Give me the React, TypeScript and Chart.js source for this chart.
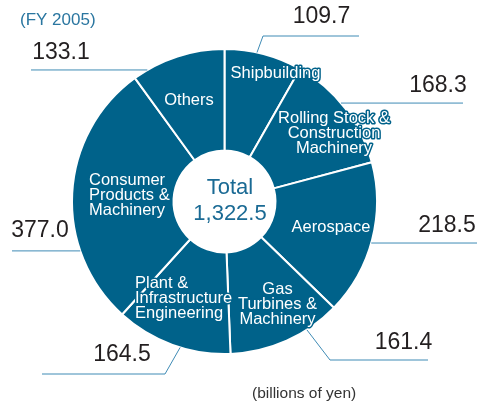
import React, { useEffect, useRef } from "react";
import { Chart, registerables } from "chart.js";

Chart.register(...registerables);

const categories = [
  "Shipbuilding",
  "Rolling Stock & Construction Machinery",
  "Aerospace",
  "Gas Turbines & Machinery",
  "Plant & Infrastructure Engineering",
  "Consumer Products & Machinery",
  "Others",
];
const values = [109.7, 168.3, 218.5, 161.4, 164.5, 377.0, 133.1];
const sliceLabelLines = [
  ["Shipbuilding"],
  ["Rolling Stock &", "Construction", "Machinery"],
  ["Aerospace"],
  ["Gas", "Turbines &", "Machinery"],
  ["Plant &", "Infrastructure", "Engineering"],
  ["Consumer", "Products &", "Machinery"],
  ["Others"],
];
const titleText = "(FY 2005)";
const unitText = "(billions of yen)";
const totalLabel = "Total";
const totalValue = "1,322.5";

const FONT = '"Liberation Sans", Arial, Helvetica, sans-serif';
const SLICE = "#00628a";
const LEADER = "#3f8bb5";

// label layout (offsets from the doughnut centre)
const sliceLabelPos = [
  { x: 51, y: -128.5, align: "center" },
  { x: 109.5, y: -83.5, align: "center" },
  { x: 106.5, y: 25.5, align: "center" },
  { x: 53, y: 87.5, align: "center" },
  { x: -89.5, y: 81.5, align: "left" },
  { x: -135.5, y: -21.5, align: "left" },
  { x: -35.5, y: -101.5, align: "center" },
];
const leaders = [
  { angle: 12.3, elbow: [38.5, -165.5], endX: 134.5, text: [97, -184.5] },
  { angle: 49.8, elbow: null, endX: 238.5, text: [213.5, -115.5] },
  { angle: 105.8, elbow: null, endX: 252.5, text: [222.5, 24.5] },
  { angle: 147.3, elbow: [105.5, 158.5], endX: 203.5, text: [179, 141.5] },
  { angle: 196.9, elbow: [-59.5, 172.5], endX: -182.5, text: [-102.5, 153.5] },
  { angle: 251.1, elbow: null, endX: -212.5, text: [-184.5, 29.5] },
  { angle: 329.6, elbow: null, endX: -193.5, text: [-163.5, -148.5] },
];

const labelPlugin = {
  id: "labels",
  afterDatasetsDraw(chart: any) {
    const ctx = chart.ctx as CanvasRenderingContext2D;
    const meta = chart.getDatasetMeta(0);
    const arc0 = meta.data[0] as any;
    const cx = arc0.x;
    const cy = arc0.y;
    const R = arc0.outerRadius;
    ctx.save();
    // slice labels
    ctx.font = `16.5px ${FONT}`;
    ctx.textBaseline = "middle";
    ctx.lineJoin = "round";
    sliceLabelLines.forEach((lines, i) => {
      const p = sliceLabelPos[i];
      ctx.textAlign = p.align as CanvasTextAlign;
      lines.forEach((ln, j) => {
        const x = cx + p.x;
        const y = cy + p.y + j * 15;
        ctx.strokeStyle = SLICE;
        ctx.lineWidth = 3;
        ctx.strokeText(ln, x, y);
        ctx.fillStyle = "#ffffff";
        ctx.fillText(ln, x, y);
      });
    });
    // leaders and values
    ctx.strokeStyle = LEADER;
    ctx.lineWidth = 1;
    ctx.font = `23px ${FONT}`;
    ctx.fillStyle = "#231f20";
    ctx.textAlign = "center";
    leaders.forEach((l, i) => {
      const a = (l.angle * Math.PI) / 180;
      const sx = cx + R * Math.sin(a);
      const sy = cy - R * Math.cos(a);
      ctx.beginPath();
      ctx.moveTo(sx, sy);
      let ey = sy;
      if (l.elbow) {
        ctx.lineTo(cx + l.elbow[0], cy + l.elbow[1]);
        ey = cy + l.elbow[1];
        ctx.lineTo(cx + l.endX, ey);
      } else {
        ctx.lineTo(cx + l.endX, ey);
      }
      ctx.stroke();
      ctx.fillText(values[i].toFixed(1), cx + l.text[0], cy + l.text[1]);
    });
    // centre
    ctx.fillStyle = "#1a6a94";
    ctx.font = `22px ${FONT}`;
    ctx.fillText(totalLabel, cx + 5.5, cy - 14);
    ctx.fillText(totalValue, cx + 5.5, cy + 12);
    // title & unit
    ctx.textAlign = "left";
    ctx.fillStyle = "#2a76a0";
    ctx.font = `17px ${FONT}`;
    ctx.fillText(titleText, 20, 20);
    ctx.fillStyle = "#333333";
    ctx.font = `15.5px ${FONT}`;
    ctx.fillText(unitText, 252, 394);
    ctx.restore();
  },
};

export default function App() {
  const ref = useRef<HTMLCanvasElement>(null);
  useEffect(() => {
    if (!ref.current) return;
    const chart = new Chart(ref.current, {
      type: "doughnut",
      data: {
        labels: categories,
        datasets: [
          {
            data: values,
            backgroundColor: SLICE,
            borderColor: "#ffffff",
            borderWidth: 2,
            hoverOffset: 0,
          },
        ],
      },
      options: {
        responsive: false,
        animation: false,
        devicePixelRatio: 1,
        cutout: 51,
        layout: { padding: { left: 71, right: 101, top: 48, bottom: 53 } },
        plugins: {
          legend: { display: false },
          tooltip: { enabled: false },
          title: { display: false },
        },
      },
      plugins: [labelPlugin],
    });
    return () => chart.destroy();
  }, []);
  return (
    <div style={{ position: "fixed", left: 0, top: 0, width: 479, height: 408, background: "#fff" }}>
      <canvas ref={ref} width={479} height={408} />
    </div>
  );
}
